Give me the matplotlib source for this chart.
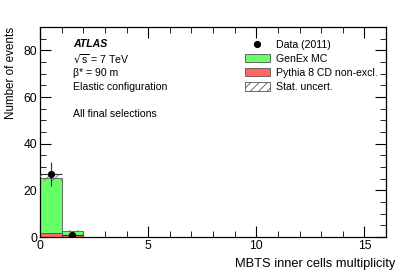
import matplotlib
matplotlib.use("Agg")
import matplotlib.pyplot as plt
import numpy as np
from matplotlib.patches import Patch
from matplotlib.lines import Line2D

plt.rcParams['font.family'] = ['Liberation Sans', 'DejaVu Sans']
plt.rcParams['hatch.linewidth'] = 0.6

bin_edges = [0, 1, 2]
genex = [23.6, 1.7]
pythia = [1.9, 0.9]
stat_unc = [1.4, 0.6]
data_x = [0.5, 1.5]
data_y = [27, 1]
data_err = [5.2, 1.0]

fig = plt.figure(figsize=(4.07, 2.76), dpi=100)
ax = fig.add_axes([40/407, 1-237/276, 346/407, 210/276])

lefts = np.array(bin_edges[:-1])
widths = np.diff(bin_edges)
pyth = np.array(pythia)
gen = np.array(genex)
tot = pyth + gen
ax.bar(lefts, pyth, width=widths, align='edge', color='#ff6666', edgecolor='#555555', linewidth=0.6, zorder=2)
ax.bar(lefts, gen, bottom=pyth, width=widths, align='edge', color='#66ff66', edgecolor='#555555', linewidth=0.6, zorder=2)
unc = np.array(stat_unc)
ax.bar(lefts, 2*unc, bottom=tot-unc, width=widths, align='edge', facecolor='none', edgecolor='#777777', hatch='////', linewidth=0, zorder=3)
ax.errorbar(data_x, data_y, yerr=data_err, xerr=0.5, fmt='o', color='black', ecolor='#333333',
            markersize=4.2, elinewidth=0.8, capsize=0, zorder=5)

ax.set_xlim(0, 16)
ax.set_ylim(0, 90)
ax.set_xticks([0, 5, 10, 15])
ax.set_xticks(np.arange(0, 17, 1), minor=True)
ax.set_yticks([0, 20, 40, 60, 80])
ax.set_yticks(np.arange(0, 91, 5), minor=True)
ax.tick_params(which='both', direction='in', top=True, right=True, labelsize=8.7, pad=2)
ax.tick_params(which='major', length=8, width=0.8)
ax.tick_params(which='minor', length=4, width=0.6)
for s in ax.spines.values():
    s.set_linewidth(0.9)

fig.text(395/407, 1-264/276, 'MBTS inner cells multiplicity', fontsize=9.3, ha='right', va='center')
fig.text(11/407, 1-27/276, 'Number of events', fontsize=8.4, ha='center', va='top', rotation=90)

tx = (73-40)/346*16
def yv(py):
    return (237-py)/210*90
fs = 7.6
ax.text(tx, yv(44), 'ATLAS', fontsize=fs, fontweight='bold', fontstyle='italic', va='center')
ax.text(tx, yv(59), r'$\sqrt{\mathregular{s}}$ = 7 TeV', fontsize=fs, va='center')
ax.text(tx, yv(73), 'β* = 90 m', fontsize=fs, va='center')
ax.text(tx, yv(87), 'Elastic configuration', fontsize=fs, va='center')
ax.text(tx, yv(114), 'All final selections', fontsize=fs, va='center')

handles = [
    Line2D([], [], marker='o', color='black', linestyle='none', markersize=4.2),
    Patch(facecolor='#66ff66', edgecolor='#555555', linewidth=0.6),
    Patch(facecolor='#ff6666', edgecolor='#555555', linewidth=0.6),
    Patch(facecolor='white', edgecolor='#555555', hatch='////', linewidth=0.6),
]
labels = ['Data (2011)', 'GenEx MC', 'Pythia 8 CD non-excl.', 'Stat. uncert.']
leg = ax.legend(handles, labels, loc='upper left', bbox_to_anchor=((245-40)/346, 1-(39.5-27)/210),
                frameon=False, fontsize=fs, handlelength=2.36, handleheight=0.85,
                labelspacing=0.4, handletextpad=0.57, borderaxespad=0, borderpad=0)

fig.savefig('out.png', dpi=100)
